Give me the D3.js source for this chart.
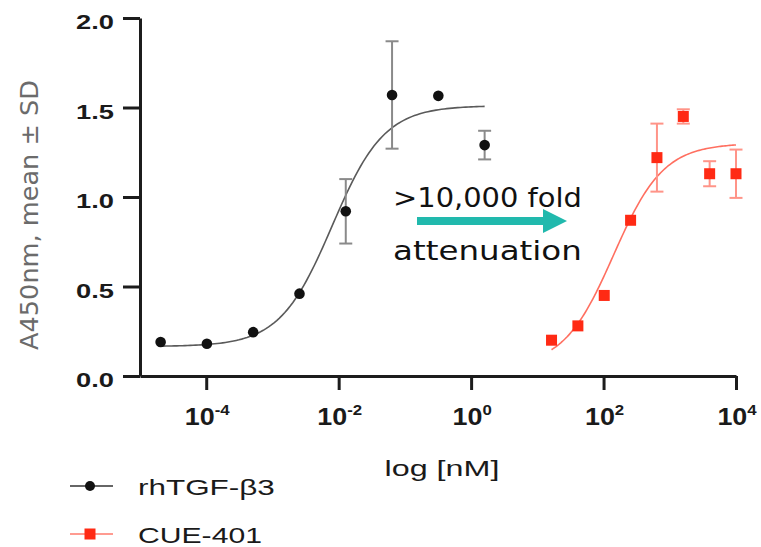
<!DOCTYPE html>
<html>
<head>
<meta charset="utf-8">
<script src="https://cdn.jsdelivr.net/npm/d3@7"></script>
<style>
  html, body { margin: 0; padding: 0; background: #fff; }
  svg { display: block; }
</style>
</head>
<body>
<svg id="chart" width="761" height="547"></svg>
<script>
// ---------------- DATA ----------------
const seriesNames = ["rhTGF-β3", "CUE-401"];
// rhTGF-β3 (nM), 5-fold dilutions
const tgfConc = [2.048e-5, 1.024e-4, 5.12e-4, 2.56e-3, 1.28e-2, 6.4e-2, 0.32, 1.6];
const tgfMean = [0.19, 0.18, 0.245, 0.46, 0.92, 1.57, 1.565, 1.29];
const tgfSD   = [0, 0, 0, 0, 0.18, 0.30, 0, 0.08];
// CUE-401 (nM), 2.5-fold dilutions
const cueConc = [16.384, 40.96, 102.4, 256, 640, 1600, 4000, 10000];
const cueMean = [0.20, 0.28, 0.45, 0.87, 1.22, 1.45, 1.13, 1.13];
const cueSD   = [0, 0, 0, 0, 0.19, 0.04, 0.07, 0.135];
// 4-parameter logistic fits: [bottom, top, logEC50, hill]
const tgfFit = [0.165, 1.51, -2.1, 1.1];
const cueFit = [0.05, 1.30, 2.15, 1.15];
// axes
const yTicks = [0, 0.5, 1.0, 1.5, 2.0];
const xTickExp = [-4, -2, 0, 2, 4];
const xDomain = [1e-5, 1e4];
const yDomain = [0, 2];
const yLabel = "A450nm, mean ± SD";
const xLabel = "log [nM]";
const annotLines = [">10,000 fold", "attenuation"];

// ---------------- DRAW ----------------
const svg = d3.select("#chart");
const x = d3.scaleLog().domain(xDomain).range([140, 736]);
const y = d3.scaleLinear().domain(yDomain).range([376, 18]);

const AX = "#1c1c1c";
const ARIAL = "'Liberation Sans', Arial, sans-serif";
const GEO = "'DejaVu Sans', sans-serif";

function fit4(p, c) {
  const [b, t, le, h] = p;
  return b + (t - b) / (1 + Math.pow(10, (le - Math.log10(c)) * h));
}
function curvePts(p, c0, c1) {
  const l0 = Math.log10(c0), l1 = Math.log10(c1), n = 120;
  return d3.range(n + 1).map(i => {
    const c = Math.pow(10, l0 + (l1 - l0) * i / n);
    return [x(c), y(fit4(p, c))];
  });
}
// stretched text helper
function sText(parent, tx, ty, str, opts) {
  const g = parent.append("g");
  const t = g.append("text")
    .attr("font-family", opts.family)
    .attr("font-size", opts.size)
    .attr("font-weight", opts.weight || "normal")
    .attr("fill", opts.fill || "#111")
    .attr("text-anchor", opts.anchor || "start")
    .text(str);
  let sx = opts.sx || 1;
  if (opts.width) sx = opts.width / t.node().getComputedTextLength();
  g.attr("transform", `translate(${tx},${ty})` + (opts.rotate ? ` rotate(${opts.rotate})` : "") + ` scale(${sx},1)`);
  return t;
}

// Axes
const yAxis = d3.axisLeft(y).tickValues(yTicks).tickSize(17).tickSizeOuter(0).tickFormat("");
const gy = svg.append("g").attr("transform", "translate(140,0)").call(yAxis);
const xAxis = d3.axisBottom(x).tickValues(xTickExp.map(e => Math.pow(10, e))).tickSize(14).tickSizeOuter(0).tickFormat("");
const gx = svg.append("g").attr("transform", "translate(0,376)").call(xAxis);
[gy, gx].forEach(g => {
  g.select(".domain").attr("stroke", AX).attr("stroke-width", 3);
  g.selectAll(".tick line").attr("stroke", AX).attr("stroke-width", 3);
});

// Y tick labels
yTicks.forEach(v => {
  sText(svg, 114, y(v) + 11, d3.format(".1f")(v),
    {family: ARIAL, size: 21, weight: "bold", anchor: "end", sx: 1.3, fill: "#1a1a1a"});
});
// X tick labels 10^n
xTickExp.forEach(e => {
  const g = svg.append("g").attr("transform", `translate(${x(Math.pow(10, e)) + 1},425) scale(1.12,1)`);
  const t = g.append("text").attr("font-family", ARIAL).attr("font-weight", "bold")
    .attr("font-size", 24).attr("fill", "#1a1a1a").attr("text-anchor", "middle");
  t.append("tspan").text("10");
  t.append("tspan").attr("font-size", 15).attr("dy", -10).text(String(e));
});

// Axis titles
sText(svg, 442, 476, xLabel, {family: ARIAL, size: 22, anchor: "middle", width: 115, fill: "#1a1a1a"});
sText(svg, 38, 215, yLabel, {family: GEO, size: 24, anchor: "middle", width: 270, rotate: -90, fill: "#6b6b6b"});

// Curves
const line = d3.line().curve(d3.curveLinear);
svg.append("path").attr("d", line(curvePts(tgfFit, tgfConc[0], tgfConc[tgfConc.length - 1])))
  .attr("fill", "none").attr("stroke", "#5a5a5a").attr("stroke-width", 1.6);
svg.append("path").attr("d", line(curvePts(cueFit, cueConc[0], cueConc[cueConc.length - 1])))
  .attr("fill", "none").attr("stroke", "#ff6f60").attr("stroke-width", 1.6);

// Error bars
function errBars(conc, mean, sd, color, cap) {
  const g = svg.append("g").attr("stroke", color).attr("stroke-width", 2);
  conc.forEach((c, i) => {
    if (!sd[i]) return;
    const cx = x(c), y1 = y(mean[i] + sd[i]), y2 = y(mean[i] - sd[i]);
    g.append("line").attr("x1", cx).attr("x2", cx).attr("y1", y1).attr("y2", y2);
    g.append("line").attr("x1", cx - cap).attr("x2", cx + cap).attr("y1", y1).attr("y2", y1);
    g.append("line").attr("x1", cx - cap).attr("x2", cx + cap).attr("y1", y2).attr("y2", y2);
  });
}
errBars(tgfConc, tgfMean, tgfSD, "#8a8a8a", 6.5);
errBars(cueConc, cueMean, cueSD, "#ff9488", 6.5);

// Points
svg.append("g").selectAll("circle").data(tgfConc).join("circle")
  .attr("cx", d => x(d)).attr("cy", (d, i) => y(tgfMean[i])).attr("r", 5.3).attr("fill", "#111");
svg.append("g").selectAll("rect").data(cueConc).join("rect")
  .attr("x", d => x(d) - 5.5).attr("y", (d, i) => y(cueMean[i]) - 5.5)
  .attr("width", 11).attr("height", 11).attr("fill", "#ff2a14");

// Annotation
sText(svg, 393, 207, annotLines[0], {family: GEO, size: 27, width: 189, fill: "#111"});
sText(svg, 393, 260, annotLines[1], {family: GEO, size: 27, width: 189, fill: "#111"});
svg.append("path")
  .attr("d", "M417,217 L543,217 L543,209 L567,221 L543,233 L543,225 L417,225 Z")
  .attr("fill", "#21b9ad");

// Legend
const leg = svg.append("g");
leg.append("line").attr("x1", 70).attr("x2", 113).attr("y1", 486).attr("y2", 486).attr("stroke", "#333").attr("stroke-width", 1.5);
leg.append("circle").attr("cx", 90).attr("cy", 486).attr("r", 5).attr("fill", "#111");
sText(leg, 138, 495, seriesNames[0], {family: ARIAL, size: 22, width: 137, fill: "#1a1a1a"});
leg.append("line").attr("x1", 70).attr("x2", 113).attr("y1", 534).attr("y2", 534).attr("stroke", "#ff7a6c").attr("stroke-width", 1.5);
leg.append("rect").attr("x", 84.5).attr("y", 528.5).attr("width", 11).attr("height", 11).attr("fill", "#ff2a14");
sText(leg, 138, 543, seriesNames[1], {family: ARIAL, size: 22, width: 124, fill: "#1a1a1a"});
</script>
</body>
</html>
